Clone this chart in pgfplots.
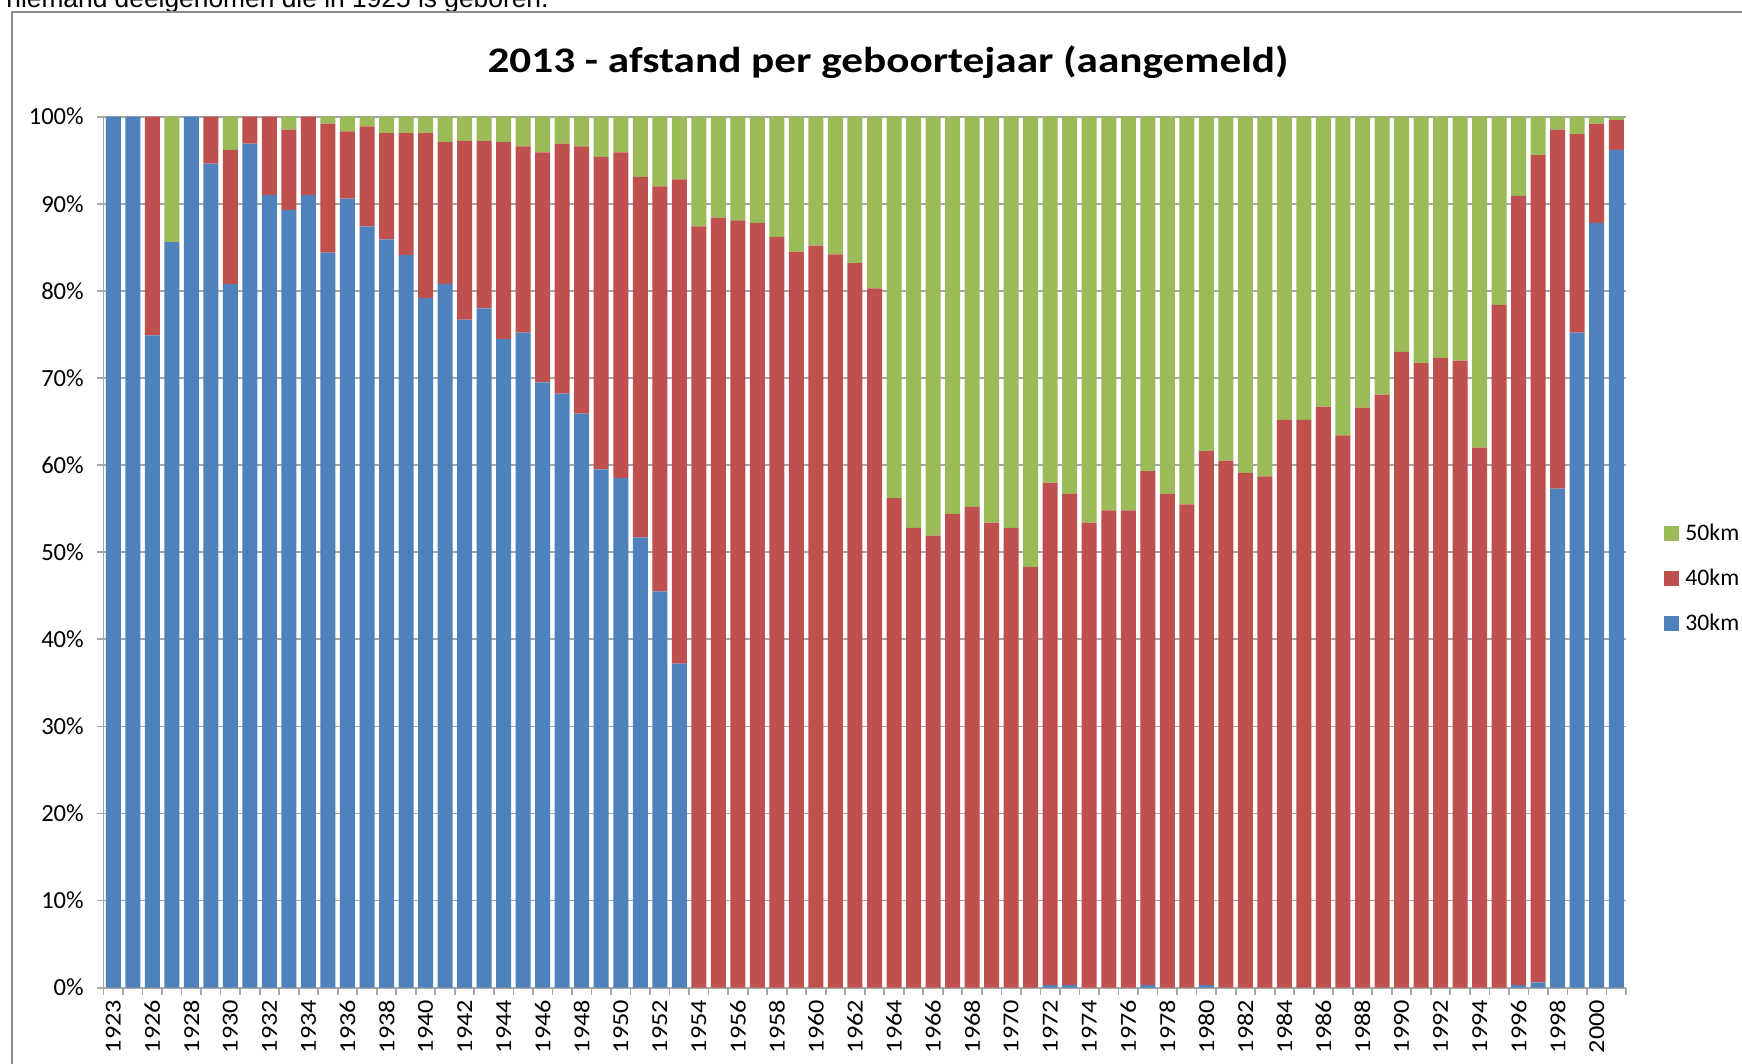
\documentclass[border=0pt]{standalone}
\usepackage{pgfplots}
\pgfplotsset{compat=1.18}
\usepackage{pgfplotstable}
\usepackage{graphicx}
\usepackage{fontspec}
\setmainfont{Carlito}
\newfontfamily\arialfont{Liberation Sans}
\newfontfamily\titlefont{Carlito}[FakeStretch=1.2]
\newcommand{\xl}[1]{\scalebox{1.15}[1]{\fontsize{13}{13}\selectfont #1}}
\definecolor{c30}{HTML}{4F81BD}
\definecolor{c40}{HTML}{C0504D}
\definecolor{c50}{HTML}{9BBB59}
\definecolor{gridc}{HTML}{A6A6A6}
\definecolor{framec}{HTML}{8C8C8C}

\pgfplotstableread{
i  b     r     g
0  100   0     0
1  100   0     0
2  74.9  25.1  0
3  85.6  0     14.4
4  100   0     0
5  94.6  5.4   0
6  80.8  15.4  3.8
7  96.9  3.1   0
8  91.0  9.0   0
9  89.3  9.2   1.5
10 91.0  9.0   0
11 84.4  14.8  0.8
12 90.6  7.7   1.7
13 87.4  11.5  1.1
14 85.9  12.2  1.9
15 84.1  14.0  1.9
16 79.2  18.9  1.9
17 80.8  16.3  2.9
18 76.7  20.5  2.8
19 78.0  19.2  2.8
20 74.5  22.6  2.9
21 75.2  21.4  3.4
22 69.5  26.4  4.1
23 68.2  28.7  3.1
24 65.9  30.7  3.4
25 59.5  35.9  4.6
26 58.5  37.4  4.1
27 51.7  41.4  6.9
28 45.5  46.5  8.0
29 37.2  55.6  7.2
30 0     87.4  12.6
31 0     88.4  11.6
32 0     88.1  11.9
33 0     87.8  12.2
34 0     86.2  13.8
35 0     84.5  15.5
36 0     85.2  14.8
37 0     84.2  15.8
38 0     83.2  16.8
39 0     80.3  19.7
40 0     56.2  43.8
41 0     52.8  47.2
42 0     51.9  48.1
43 0     54.4  45.6
44 0     55.2  44.8
45 0     53.4  46.6
46 0     52.8  47.2
47 0     48.3  51.7
48 0.3   57.7  42.0
49 0.3   56.4  43.3
50 0     53.4  46.6
51 0     54.8  45.2
52 0     54.8  45.2
53 0.3   59.0  40.7
54 0     56.7  43.3
55 0     55.5  44.5
56 0.3   61.3  38.4
57 0     60.5  39.5
58 0     59.1  40.9
59 0     58.7  41.3
60 0     65.2  34.8
61 0     65.2  34.8
62 0     66.7  33.3
63 0     63.4  36.6
64 0     66.6  33.4
65 0     68.1  31.9
66 0     73.0  27.0
67 0     71.7  28.3
68 0     72.3  27.7
69 0     72.0  28.0
70 0     62.0  38.0
71 0     78.4  21.6
72 0.3   90.6  9.1
73 0.6   95.0  4.4
74 57.3  41.2  1.5
75 75.2  22.8  2.0
76 87.8  11.4  0.8
77 96.2  3.4   0.4
}\data

\begin{document}
\begin{tikzpicture}
\useasboundingbox (0,0) rectangle (348.4mm,212.8mm);
\clip (0,0) rectangle (348.4mm,212.8mm);
\fill[white] (0,0) rectangle (348.4mm,212.8mm);
\node[anchor=base west, inner sep=0pt, font=\arialfont\fontsize{15}{15}\selectfont] at (1.2mm,211.2mm) {niemand deelgenomen die in 1925 is geboren.};
\draw[framec, line width=0.4mm] (2.4mm,-10mm) rectangle (400mm,210.4mm);
\node[anchor=base, inner sep=0pt, font=\titlefont\bfseries\fontsize{20.5}{20.5}\selectfont] at (177.6mm,198.3mm) {2013 - afstand per geboortejaar (aangemeld)};
\begin{axis}[
  at={(20.7mm,15.26mm)}, anchor=south west,
  width=304.5mm, height=174.2mm, scale only axis,
  ybar stacked, bar width=3mm,
  xmin=-0.5, xmax=77.5, ymin=0, ymax=100,
  axis x line*=bottom, axis y line*=left,
  axis line style={gridc, line width=0.35mm},
  ytick={0,10,...,100},
  yticklabel={\pgfmathprintnumber{\tick}\%},
  /pgf/number format/assume math mode=true,
  ymajorgrids, grid style={gridc, line width=0.35mm},
  tick align=outside,
  major tick length=1.2mm, minor tick length=1.4mm,
  tick style={gridc, line width=0.35mm},
  xtick={0,2,...,76},
  xticklabels={\xl{1923},\xl{1926},\xl{1928},\xl{1930},\xl{1932},\xl{1934},\xl{1936},\xl{1938},\xl{1940},\xl{1942},\xl{1944},\xl{1946},\xl{1948},\xl{1950},\xl{1952},\xl{1954},\xl{1956},\xl{1958},\xl{1960},\xl{1962},\xl{1964},\xl{1966},\xl{1968},\xl{1970},\xl{1972},\xl{1974},\xl{1976},\xl{1978},\xl{1980},\xl{1982},\xl{1984},\xl{1986},\xl{1988},\xl{1990},\xl{1992},\xl{1994},\xl{1996},\xl{1998},\xl{2000}},
  major x tick style={draw=none},
  minor xtick={-0.5,0.5,...,77.5},
  yticklabel style={font=\fontsize{14}{14}\selectfont, text=black, xshift=-1.5mm},
  xticklabel style={text=black, rotate=90, anchor=east},
  legend style={at={(1.025,0.4695)}, anchor=west, draw=none, fill=none,
    inner sep=0pt, row sep=5.2mm,
    font=\fontsize{13.5}{13.5}\selectfont,
    nodes={inner sep=0pt}},
  /tikz/every odd column/.append style={column sep=1.2mm},
  legend image code/.code={\fill[#1] (0mm,-1.5mm) rectangle (3mm,1.5mm);},
  reverse legend,
]
\addplot[fill=c30, draw=none] table[x=i, y=b] {\data};
\addplot[fill=c40, draw=none] table[x=i, y=r] {\data};
\addplot[fill=c50, draw=none] table[x=i, y=g] {\data};
\legend{30km,40km,50km}
\end{axis}
\end{tikzpicture}
\end{document}
